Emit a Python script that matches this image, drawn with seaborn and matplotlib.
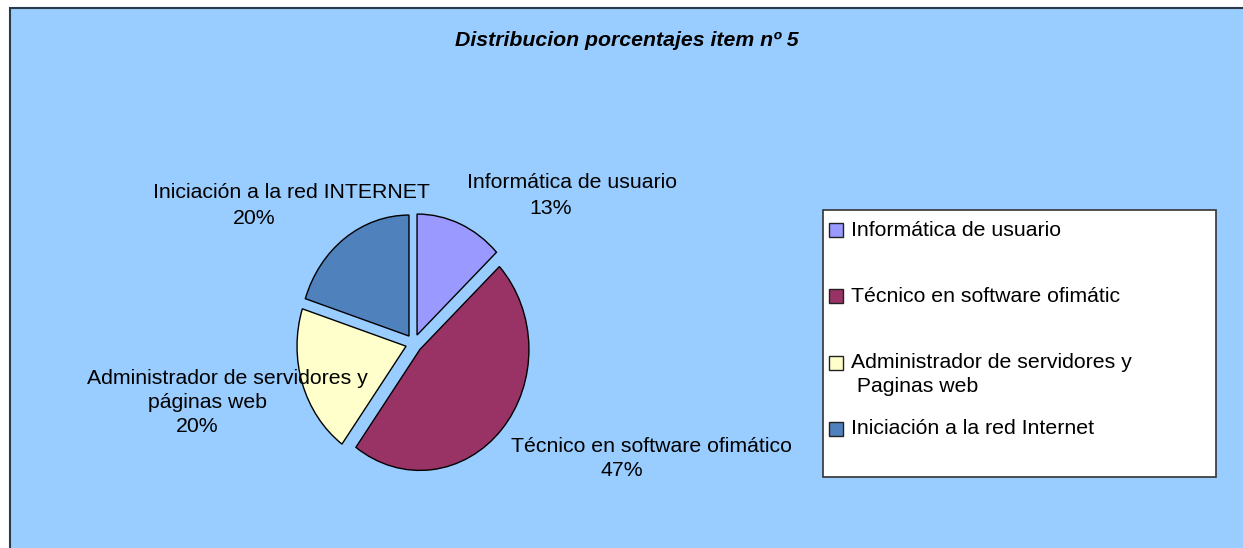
import matplotlib
matplotlib.use("Agg")
import matplotlib.pyplot as plt
import seaborn as sns
from matplotlib.patches import Rectangle

# ---- data ----
categories = ["Informática de usuario", "Técnico en software ofimático",
              "Administrador de servidores y páginas web", "Iniciación a la red INTERNET"]
percentages = [13, 47, 20, 20]
label_lines = [["Informática de usuario"],
               ["Técnico en software ofimático"],
               ["Administrador de servidores y", "páginas web"],
               ["Iniciación a la red INTERNET"]]
legend_labels = ["Informática de usuario", "Técnico en software ofimátic",
                 "Administrador de servidores y\n Paginas web", "Iniciación a la red Internet"]
colors = sns.color_palette(["#9999FF", "#993366", "#FFFFCC", "#4F81BD"])
title = "Distribucion porcentajes item nº 5"

sns.set_style("white")
plt.rcParams["font.family"] = ["Liberation Sans", "DejaVu Sans"]

W, H = 1243, 548
DPI = 100
FS = 15.3
fig = plt.figure(figsize=(W / DPI, H / DPI), dpi=DPI, facecolor="white")


def fx(x):
    return x / W


def fy(y):
    return 1 - y / H


# chart area background
fig.patches.append(Rectangle((fx(10), fy(H + 10)), fx(W + 20) - fx(10), fy(8) - fy(H + 10),
                             transform=fig.transFigure, facecolor="#99CCFF",
                             edgecolor="#2B3A4A", linewidth=1.5, zorder=-5))

# title
fig.text(fx(627), fy(40), title, ha="center", va="center", fontsize=FS,
         fontweight="bold", fontstyle="italic", color="black")

# pie
rx, ry = 109, 121
cx, cy = 413.8, 343.4
ax = fig.add_axes([fx(cx - 1.25 * rx), fy(cy + 1.25 * ry), 2.5 * rx / W, 2.5 * ry / H])
ax.set_zorder(2)
wedges, _ = ax.pie(percentages, colors=colors, startangle=90, counterclock=False,
                   explode=[0.075] * len(percentages),
                   wedgeprops=dict(edgecolor="black", linewidth=1.0))
ax.set_aspect("auto")
ax.set_xlim(-1.25, 1.25)
ax.set_ylim(-1.25, 1.25)
ax.axis("off")
ax.patch.set_alpha(0)

# data labels (layout positions in pixels: per line center x, y)
label_pos = [[(572, 182)],
             [(651, 447)],
             [(227, 378), (207, 402)],
             [(291, 193)]]
pct_pos = [(551, 208), (622, 471), (197, 427), (254, 219)]
for lines, poss, pct, pp in zip(label_lines, label_pos, percentages, pct_pos):
    for ln, (x, y) in zip(lines, poss):
        fig.text(fx(x), fy(y), ln, ha="center", va="center", fontsize=FS, color="black",
                 zorder=5)
    fig.text(fx(pp[0]), fy(pp[1]), f"{pct}%", ha="center", va="center", fontsize=FS,
             color="black", zorder=5)

# legend
fig.patches.append(Rectangle((fx(823), fy(477)), fx(1216) - fx(823), fy(210) - fy(477),
                             transform=fig.transFigure, facecolor="white",
                             edgecolor="#333333", linewidth=1.2, zorder=1))
leg_y = [230, 296, 363, 429]
for lab, col, y in zip(legend_labels, colors, leg_y):
    fig.patches.append(Rectangle((fx(829), fy(y + 7)), fx(843) - fx(829), fy(y - 7) - fy(y + 7),
                                 transform=fig.transFigure, facecolor=col,
                                 edgecolor="#222222", linewidth=1.0, zorder=2))
    parts = lab.split("\n")
    for i, p in enumerate(parts):
        fig.text(fx(851), fy(y + 24 * i), p, ha="left", va="center", fontsize=FS,
                 color="black", zorder=3)

fig.savefig("out.png", dpi=DPI, facecolor="white")
